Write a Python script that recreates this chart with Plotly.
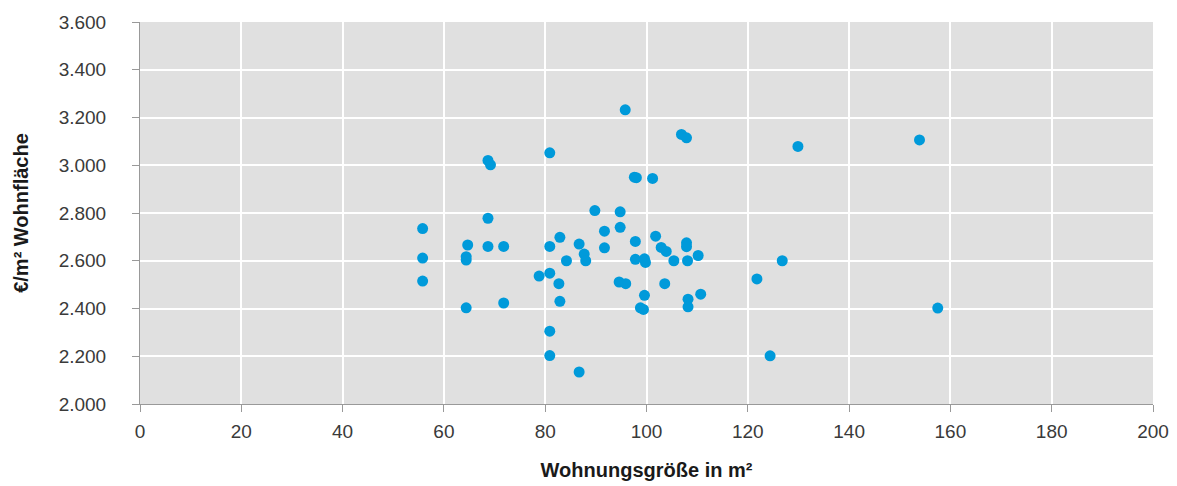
import plotly.graph_objects as go

# Wohnungsgröße (m²) und Preis (€/m² Wohnfläche)
groesse = [95.8, 106.9, 107.9, 68.7, 69.2, 80.9, 97.6, 98.0, 101.2, 89.8,
           94.8, 68.7, 55.8, 94.8, 55.8, 55.8, 64.7, 64.4, 64.4, 64.4,
           68.7, 71.8, 71.8, 78.8, 80.9, 80.9, 80.9, 80.9, 82.9, 82.7,
           82.9, 84.2, 86.7, 87.7, 88.0, 86.7, 91.7, 91.7, 94.6, 95.9,
           97.8, 97.8, 99.6, 99.8, 99.6, 98.8, 99.4, 101.8, 102.9, 103.9,
           103.6, 105.4, 107.9, 107.9, 108.1, 110.2, 108.2, 108.2, 110.7, 129.9,
           153.9, 126.8, 121.8, 157.5, 124.4]
preis = [3232, 3129, 3115, 3020, 3002, 3052, 2950, 2948, 2945, 2810,
         2805, 2778, 2735, 2740, 2611, 2515, 2666, 2617, 2603, 2403,
         2660, 2660, 2423, 2536, 2660, 2548, 2305, 2203, 2698, 2504,
         2430, 2600, 2670, 2628, 2600, 2134, 2724, 2654, 2511, 2504,
         2681, 2606, 2608, 2593, 2455, 2403, 2396, 2703, 2656, 2639,
         2504, 2600, 2675, 2659, 2600, 2622, 2439, 2407, 2460, 3079,
         3106, 2600, 2524, 2402, 2202]

fig = go.Figure()
fig.add_trace(go.Scatter(x=groesse, y=preis, mode='markers',
                         marker=dict(color='#009ADA', size=11, line=dict(width=0)),
                         showlegend=False))

tick_font = dict(family='Liberation Sans, Arial, sans-serif', size=19, color='#3a3a3a')
title_font = dict(family='Liberation Sans, Arial, sans-serif', size=20, color='#1a1a1a')
# page body keeps the browser's 8px margin, so margins are shifted by 8px
fig.update_layout(
    width=1177, height=486,
    margin=dict(l=132, r=32, t=14, b=90),
    paper_bgcolor='white', plot_bgcolor='#E0E0E0',
    separators=',.',
    font=tick_font,
    xaxis=dict(range=[0, 200], dtick=20, showgrid=True, gridcolor='white', gridwidth=1.5,
               zeroline=False, showline=True, linecolor='#999999', linewidth=1,
               ticks='outside', ticklen=7, tickcolor='#999999', tickfont=tick_font,
               ticklabelstandoff=3, automargin=False,
               title=dict(text='<b>Wohnungsgröße in m²</b>', standoff=22, font=title_font)),
    yaxis=dict(range=[2000, 3600], dtick=200, tickformat=',d', showgrid=True, gridcolor='white',
               gridwidth=1.5, zeroline=False, showline=True, linecolor='#999999', linewidth=1,
               ticks='outside', ticklen=7, tickcolor='#999999', tickfont=tick_font,
               ticklabelstandoff=22, automargin=False,
               title=dict(text='<b>€/m² Wohnfläche</b>', standoff=24, font=title_font)),
)

fig.write_html("out.html", config={'displayModeBar': False})
